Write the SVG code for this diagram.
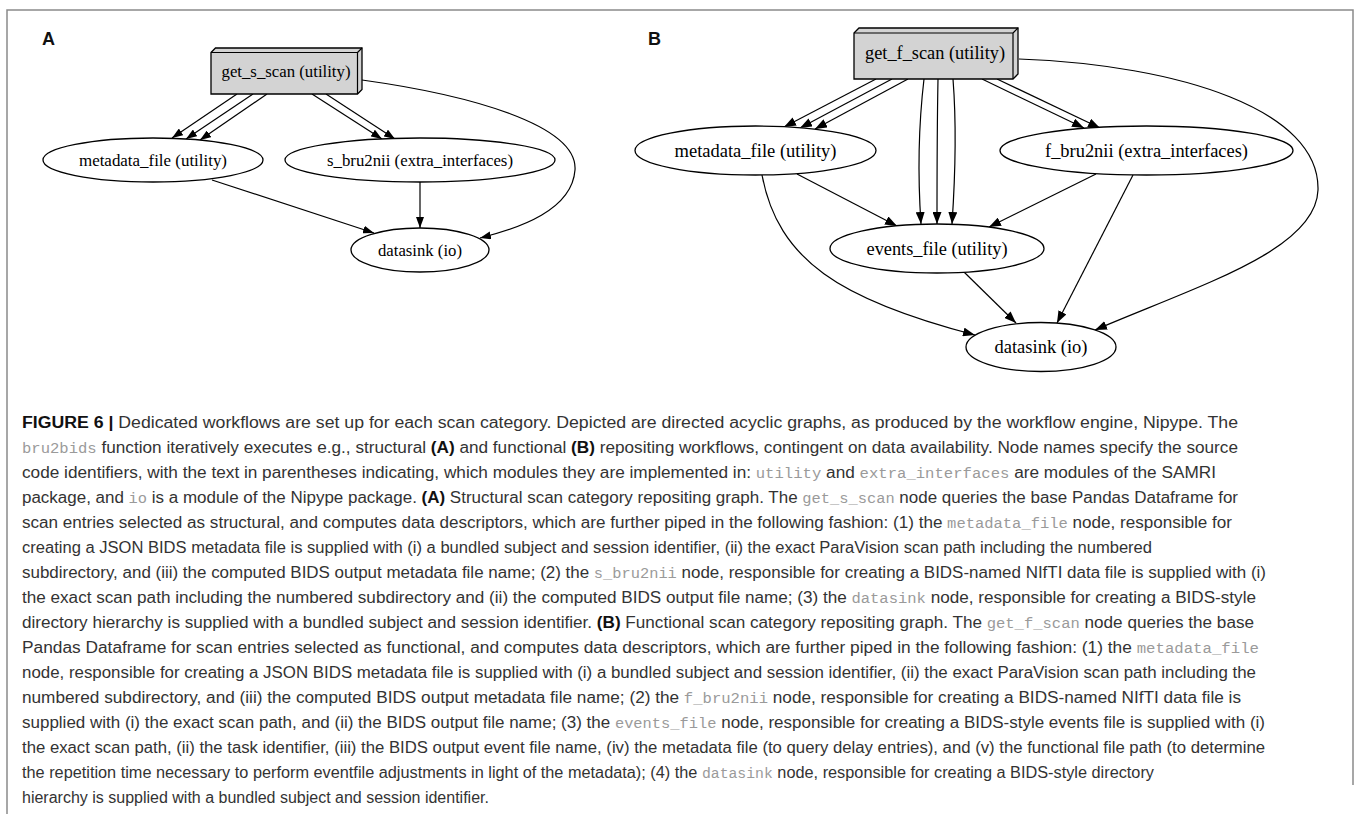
<svg xmlns="http://www.w3.org/2000/svg" width="1360" height="814" viewBox="0 0 1360 814">
<style>
.frame{fill:none;stroke:#8a8a8a;stroke-width:1.5}
.lbl{font-family:"Liberation Sans",Arial,sans-serif;font-weight:bold;font-size:18px;fill:#111}
.nd{fill:#fff;stroke:#000;stroke-width:1.3}
.box{fill:#d3d3d3;stroke:#000;stroke-width:1.3;stroke-linejoin:miter}
.nt{font-family:"Liberation Serif","Times New Roman",serif;fill:#000;text-anchor:middle}
.ta{font-size:17.5px}
.tb{font-size:19px}
.e{fill:none;stroke:#000;stroke-width:1.2}
.ea{marker-end:url(#ha)}
.eb{marker-end:url(#hb)}
.cap{font-family:"Liberation Sans",Arial,sans-serif;font-size:16px;fill:#333}
.b{font-weight:bold;fill:#111}
.c{font-family:"Liberation Mono","Courier New",monospace;font-size:14.5px;fill:#9a9a9a}
</style>
<defs>
<marker id="ha" viewBox="0 0 11 8" refX="11" refY="4" markerWidth="11" markerHeight="8" markerUnits="userSpaceOnUse" orient="auto"><path d="M0,0 L11,4 L0,8 z" fill="#000"/></marker>
<marker id="hb" viewBox="0 0 12 9" refX="12" refY="4.5" markerWidth="12" markerHeight="9" markerUnits="userSpaceOnUse" orient="auto"><path d="M0,0 L12,4.5 L0,9 z" fill="#000"/></marker>
</defs>
<path class="frame" d="M7,814 L7,10 L1353,10 L1353,785"/>
<text class="lbl" x="42" y="45">A</text>
<text class="lbl" x="648" y="45">B</text>

<g id="edges">
<path class="e ea" d="M237,94 L172,138"/>
<path class="e ea" d="M253,94 L186,139"/>
<path class="e ea" d="M267,94 L200,140"/>
<path class="e ea" d="M312,94 L382,139"/>
<path class="e ea" d="M326,94 L395,139"/>
<path class="e ea" d="M362,80 C470,95 578,125 575,170 C572,210 520,228 480,238"/>
<path class="e ea" d="M212,180 L374,233"/>
<path class="e ea" d="M420,182 L420,228"/>

<path class="e eb" d="M876,79 L784,127"/>
<path class="e eb" d="M892,79 L800,128"/>
<path class="e eb" d="M908,79 L815,129"/>
<path class="e eb" d="M924,79 C918,130 918,180 921,224"/>
<path class="e eb" d="M938,79 C937,130 937,180 937,224"/>
<path class="e eb" d="M953,79 C957,130 955,180 952,224"/>
<path class="e eb" d="M982,79 L1084,128"/>
<path class="e eb" d="M997,79 L1100,128"/>
<path class="e eb" d="M1019,59 C1180,65 1320,110 1318,190 C1316,250 1200,285 1095,330"/>
<path class="e eb" d="M797,174 L897,226"/>
<path class="e eb" d="M1096,174 L989,227"/>
<path class="e eb" d="M762,175 C778,260 840,300 975,335"/>
<path class="e eb" d="M964,272 L1016,323"/>
<path class="e eb" d="M1133,175 L1057,323"/>
</g>

<g id="get_s_scan">
<path class="box" d="M211,52.5 L215.5,48 L362,48 L362,89.5 L357.5,94 L211,94 Z"/>
<path class="e" d="M211,52.5 L357.5,52.5 L357.5,94 M357.5,52.5 L362,48"/>
<text class="nt ta" x="286" y="76.5" textLength="129" lengthAdjust="spacingAndGlyphs">get_s_scan (utility)</text>
</g>
<g id="metadata_file_a">
<ellipse class="nd" cx="153" cy="160" rx="110" ry="22"/>
<text class="nt ta" x="153" y="165.5" textLength="148" lengthAdjust="spacingAndGlyphs">metadata_file (utility)</text>
</g>
<g id="s_bru2nii">
<ellipse class="nd" cx="420" cy="160" rx="135" ry="22"/>
<text class="nt ta" x="420" y="165.5" textLength="186" lengthAdjust="spacingAndGlyphs">s_bru2nii (extra_interfaces)</text>
</g>
<g id="datasink_a">
<ellipse class="nd" cx="420" cy="250" rx="69" ry="22"/>
<text class="nt ta" x="420" y="255.5" textLength="84" lengthAdjust="spacingAndGlyphs">datasink (io)</text>
</g>

<g id="get_f_scan">
<path class="box" d="M854,33 L859,28 L1018,28 L1018,74 L1013,79 L854,79 Z"/>
<path class="e" d="M854,33 L1013,33 L1013,79 M1013,33 L1018,28"/>
<text class="nt tb" x="935" y="59" textLength="140" lengthAdjust="spacingAndGlyphs">get_f_scan (utility)</text>
</g>
<g id="metadata_file_b">
<ellipse class="nd" cx="755.5" cy="150.5" rx="120.5" ry="24.5"/>
<text class="nt tb" x="755.5" y="156.5" textLength="162" lengthAdjust="spacingAndGlyphs">metadata_file (utility)</text>
</g>
<g id="f_bru2nii">
<ellipse class="nd" cx="1146.5" cy="150.5" rx="146.5" ry="24.5"/>
<text class="nt tb" x="1146.5" y="156.5" textLength="203" lengthAdjust="spacingAndGlyphs">f_bru2nii (extra_interfaces)</text>
</g>
<g id="events_file">
<ellipse class="nd" cx="937" cy="248.5" rx="107" ry="24.5"/>
<text class="nt tb" x="937" y="254.5" textLength="141" lengthAdjust="spacingAndGlyphs">events_file (utility)</text>
</g>
<g id="datasink_b">
<ellipse class="nd" cx="1041" cy="347" rx="75" ry="24.5"/>
<text class="nt tb" x="1041" y="353" textLength="93" lengthAdjust="spacingAndGlyphs">datasink (io)</text>
</g>

<g id="caption" class="cap">
<text x="22" y="428" textLength="1216" lengthAdjust="spacingAndGlyphs"><tspan class="b">FIGURE 6 |</tspan> Dedicated workflows are set up for each scan category. Depicted are directed acyclic graphs, as produced by the workflow engine, Nipype. The</text>
<text x="22" y="453" textLength="1216" lengthAdjust="spacingAndGlyphs"><tspan class="c">bru2bids</tspan> function iteratively executes e.g., structural <tspan class="b">(A)</tspan> and functional <tspan class="b">(B)</tspan> repositing workflows, contingent on data availability. Node names specify the source</text>
<text x="22" y="478" textLength="1194" lengthAdjust="spacingAndGlyphs">code identifiers, with the text in parentheses indicating, which modules they are implemented in: <tspan class="c">utility</tspan> and <tspan class="c">extra_interfaces</tspan> are modules of the SAMRI</text>
<text x="22" y="503" textLength="1216" lengthAdjust="spacingAndGlyphs">package, and <tspan class="c">io</tspan> is a module of the Nipype package. <tspan class="b">(A)</tspan> Structural scan category repositing graph. The <tspan class="c">get_s_scan</tspan> node queries the base Pandas Dataframe for</text>
<text x="22" y="528" textLength="1210" lengthAdjust="spacingAndGlyphs">scan entries selected as structural, and computes data descriptors, which are further piped in the following fashion: (1) the <tspan class="c">metadata_file</tspan> node, responsible for</text>
<text x="22" y="553" textLength="1130" lengthAdjust="spacingAndGlyphs">creating a JSON BIDS metadata file is supplied with (i) a bundled subject and session identifier, (ii) the exact ParaVision scan path including the numbered</text>
<text x="22" y="578" textLength="1244" lengthAdjust="spacingAndGlyphs">subdirectory, and (iii) the computed BIDS output metadata file name; (2) the <tspan class="c">s_bru2nii</tspan> node, responsible for creating a BIDS-named NIfTI data file is supplied with (i)</text>
<text x="22" y="603" textLength="1234" lengthAdjust="spacingAndGlyphs">the exact scan path including the numbered subdirectory and (ii) the computed BIDS output file name; (3) the <tspan class="c">datasink</tspan> node, responsible for creating a BIDS-style</text>
<text x="22" y="628" textLength="1232" lengthAdjust="spacingAndGlyphs">directory hierarchy is supplied with a bundled subject and session identifier. <tspan class="b">(B)</tspan> Functional scan category repositing graph. The <tspan class="c">get_f_scan</tspan> node queries the base</text>
<text x="22" y="653" textLength="1237" lengthAdjust="spacingAndGlyphs">Pandas Dataframe for scan entries selected as functional, and computes data descriptors, which are further piped in the following fashion: (1) the <tspan class="c">metadata_file</tspan></text>
<text x="22" y="678" textLength="1234" lengthAdjust="spacingAndGlyphs">node, responsible for creating a JSON BIDS metadata file is supplied with (i) a bundled subject and session identifier, (ii) the exact ParaVision scan path including the</text>
<text x="22" y="703" textLength="1219" lengthAdjust="spacingAndGlyphs">numbered subdirectory, and (iii) the computed BIDS output metadata file name; (2) the <tspan class="c">f_bru2nii</tspan> node, responsible for creating a BIDS-named NIfTI data file is</text>
<text x="22" y="728" textLength="1243" lengthAdjust="spacingAndGlyphs">supplied with (i) the exact scan path, and (ii) the BIDS output file name; (3) the <tspan class="c">events_file</tspan> node, responsible for creating a BIDS-style events file is supplied with (i)</text>
<text x="22" y="753" textLength="1243" lengthAdjust="spacingAndGlyphs">the exact scan path, (ii) the task identifier, (iii) the BIDS output event file name, (iv) the metadata file (to query delay entries), and (v) the functional file path (to determine</text>
<text x="22" y="778" textLength="1132" lengthAdjust="spacingAndGlyphs">the repetition time necessary to perform eventfile adjustments in light of the metadata); (4) the <tspan class="c">datasink</tspan> node, responsible for creating a BIDS-style directory</text>
<text x="22" y="803">hierarchy is supplied with a bundled subject and session identifier.</text>
</g>
</svg>
